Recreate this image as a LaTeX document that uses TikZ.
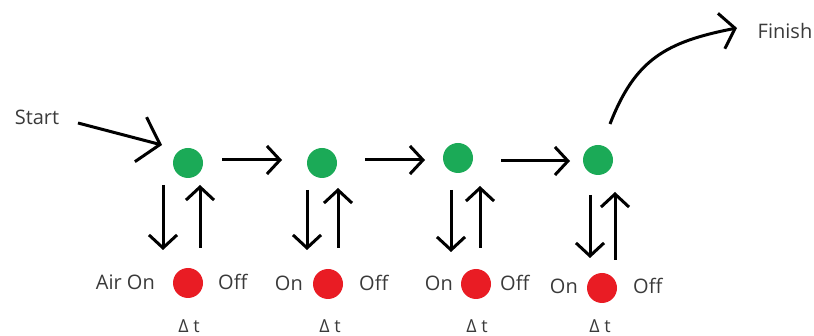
\documentclass[tikz,border=0pt]{standalone}
\usepackage{fontspec}
\setmainfont{Open Sans}
\usetikzlibrary{arrows.meta,calc}
\definecolor{stategreen}{RGB}{27,170,87}
\definecolor{airred}{RGB}{233,28,36}
\definecolor{labelgray}{RGB}{58,58,58}
\tikzstyle{state node} = [circle,fill=stategreen,minimum size=30pt,inner sep=0]
\tikzstyle{air node}   = [circle,fill=airred,minimum size=30pt,inner sep=0]
\tikzstyle{tag}        = [inner sep=0,text=labelgray]
\tikzstyle{delta tag}  = [tag,font=\fontsize{18}{20}\selectfont]
\tikzstyle{move}       = [line width=3pt,-{Straight Barb[length=13pt,width=28pt]}]

\begin{document}
\begin{tikzpicture}[x=1pt,y=-1pt,
                    font=\fontsize{20}{23}\selectfont
                    ]
\useasboundingbox (0,0) rectangle (814,336);

    % states along the run
    \node(g1)[state node] at (188,163){};
    \node(g2)[state node] at (322,163){};
    \node(g3)[state node] at (458,158){};
    \node(g4)[state node] at (598,160){};

    % air pulse under each state
    \node(r1)[air node] at (188,283){};
    \node(r2)[air node] at (328,284){};
    \node(r3)[air node] at (476,284){};
    \node(r4)[air node] at (602,288){};

    \node(st)[tag] at (37,117){Start};
    \node(fin)[tag] at (785,31){Finish};

    \node(on1)[tag, anchor=east] at (155,282){Air On};
    \node(off1)[tag, anchor=west] at (218,282){Off};
    \node(on2)[tag, anchor=east] at (303,283){On};
    \node(off2)[tag, anchor=west] at (359,283){Off};
    \node(on3)[tag, anchor=east] at (453,283){On};
    \node(off3)[tag, anchor=west] at (500,283){Off};
    \node(on4)[tag, anchor=east] at (578,286){On};
    \node(off4)[tag, anchor=west] at (633,286){Off};

    \node(dt1)[delta tag] at (189,326){Δ t};
    \node(dt2)[delta tag] at (330,326){Δ t};
    \node(dt3)[delta tag] at (477,326){Δ t};
    \node(dt4)[delta tag] at (600,326){Δ t};

    % in and out
    \draw[move, -{Straight Barb[length=20pt,width=46pt]}] ($(st)+(41,6)$) -- ($(g1)+(-26,-18)$);
    \draw[move, -{Straight Barb[length=14pt,width=36pt]}] ($(g4)+(12,-36)$)
        .. controls ($(g4)+(37,-100)$) and ($(g4)+(67,-118)$) .. ($(fin)+(-48,-3)$);

    % state to state
    \draw[move] ($(g1)+(34,-3)$) -- ($(g2)+(-40,-3)$);
    \draw[move] ($(g2)+(43,-3)$) -- ($(g3)+(-33,2)$);
    \draw[move] ($(g3)+(43,3)$) -- ($(g4)+(-28,1)$);

    % on / off
    \draw[move] ($(g1)+(-25,22)$) -- ($(r1)+(-25,-33)$);
    \draw[move] ($(r1)+(12,-35)$) -- ($(g1)+(12,22)$);
    \draw[move] ($(g2)+(-15,27)$) -- ($(r2)+(-21,-34)$);
    \draw[move] ($(r2)+(10,-36)$) -- ($(g2)+(16,25)$);
    \draw[move] ($(g3)+(-7,32)$) -- ($(r3)+(-25,-32)$);
    \draw[move] ($(r3)+(4,-36)$) -- ($(g3)+(22,28)$);
    \draw[move] ($(g4)+(-8,35)$) -- ($(r4)+(-12,-30)$);
    \draw[move] ($(r4)+(13,-28)$) -- ($(g4)+(17,32)$);

\end{tikzpicture}
\end{document}
